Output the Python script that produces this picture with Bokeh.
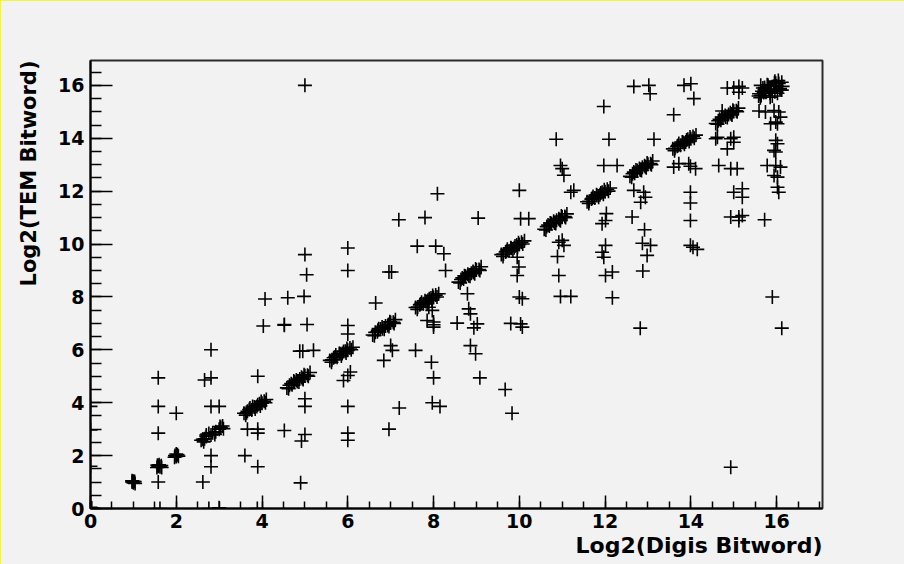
from bokeh.plotting import figure
from bokeh.models import Range1d, SingleIntervalTicker, ColumnDataSource, Title
from bokeh.embed import file_html
from bokeh.resources import INLINE

# ---------------- data ----------------
# points lying along the diagonal (dense streaks)
diag_x = [
    0.0, 0.03, 0.0,
    0.97, 1.0, 1.03, 1.0,
    1.55, 1.58, 1.62, 1.6, 1.65,
    1.97, 2.0, 2.03, 2.05,
    2.58, 2.62, 2.66, 2.7, 2.81, 2.85, 2.92, 3.0, 3.04, 3.08,
    3.58, 3.64, 3.7, 3.76, 3.82, 3.88, 3.94, 4.0, 4.05, 4.1, 3.66, 3.9,
    4.58, 4.64, 4.7, 4.76, 4.82, 4.88, 4.94, 5.0, 5.06, 5.12, 4.68, 4.92,
    5.58, 5.63, 5.7, 5.75, 5.82, 5.87, 5.94, 6.0, 6.05, 6.12, 5.67, 5.9,
    6.58, 6.64, 6.69, 6.76, 6.81, 6.88, 6.93, 7.0, 7.06, 7.11, 6.7, 6.95,
    7.58, 7.63, 7.7, 7.76, 7.82, 7.87, 7.94, 8.0, 8.05, 8.12, 7.68, 7.9,
    8.58, 8.64, 8.7, 8.75, 8.82, 8.88, 8.93, 9.0, 9.06, 9.11, 8.67, 8.92,
    9.58, 9.63, 9.7, 9.76, 9.81, 9.88, 9.94, 10.0, 10.05, 10.12, 9.68, 9.9,
    10.58, 10.64, 10.7, 10.75, 10.82, 10.87, 10.94, 11.0, 11.06, 11.11, 10.67, 10.92,
    11.58, 11.63, 11.7, 11.76, 11.81, 11.88, 11.93, 12.0, 12.05, 12.12, 11.68, 11.9,
    12.58, 12.64, 12.69, 12.75, 12.82, 12.87, 12.94, 13.0, 13.06, 13.11, 12.67, 12.92,
    13.58, 13.63, 13.7, 13.76, 13.82, 13.88, 13.93, 14.0, 14.05, 14.12, 13.68, 13.9,
    14.58, 14.64, 14.7, 14.75, 14.81, 14.88, 14.94, 15.0, 15.06, 15.11, 14.67, 14.92,
    15.58, 15.64, 15.7, 15.75, 15.82, 15.87, 15.93, 16.0, 16.05, 16.12,
    15.66, 15.9, 15.78, 15.95, 16.08, 15.85, 16.02, 15.72, 16.14, 15.96,
]
diag_y = [
    0.0, 0.02, 0.05,
    1.0, 0.97, 1.02, 1.03,
    1.55, 1.6, 1.58, 1.65, 1.62,
    2.0, 1.97, 2.03, 1.98,
    2.58, 2.62, 2.64, 2.72, 2.78, 2.86, 2.9, 3.0, 3.06, 3.12,
    3.6, 3.62, 3.74, 3.72, 3.84, 3.86, 3.96, 3.98, 4.06, 4.12, 3.68, 3.92,
    4.56, 4.66, 4.68, 4.78, 4.8, 4.9, 4.92, 5.02, 5.04, 5.14, 4.72, 4.96,
    5.6, 5.62, 5.73, 5.72, 5.85, 5.86, 5.95, 5.98, 6.07, 6.1, 5.7, 5.94,
    6.56, 6.66, 6.68, 6.79, 6.8, 6.9, 6.92, 7.03, 7.04, 7.14, 6.74, 6.96,
    7.6, 7.62, 7.73, 7.74, 7.83, 7.87, 7.96, 7.98, 8.07, 8.12, 7.7, 7.93,
    8.56, 8.66, 8.68, 8.78, 8.8, 8.9, 8.92, 9.02, 9.04, 9.14, 8.72, 8.96,
    9.6, 9.62, 9.73, 9.74, 9.84, 9.86, 9.96, 9.98, 10.07, 10.12, 9.7, 9.93,
    10.56, 10.66, 10.68, 10.78, 10.8, 10.9, 10.92, 11.02, 11.04, 11.14, 10.72, 10.96,
    11.6, 11.62, 11.73, 11.74, 11.84, 11.86, 11.96, 11.98, 12.07, 12.12, 11.7, 11.93,
    12.56, 12.66, 12.68, 12.78, 12.8, 12.9, 12.92, 13.02, 13.04, 13.14, 12.72, 12.96,
    13.6, 13.62, 13.73, 13.74, 13.84, 13.86, 13.96, 13.98, 14.07, 14.12, 13.7, 13.93,
    14.56, 14.66, 14.68, 14.78, 14.8, 14.9, 14.92, 15.02, 15.04, 15.14, 14.72, 14.96,
    15.6, 15.62, 15.73, 15.74, 15.84, 15.86, 15.96, 15.98, 16.07, 16.12,
    15.78, 15.6, 16.02, 16.1, 15.82, 15.55, 15.7, 15.92, 15.96, 16.16,
]
# extra points that thicken the diagonal streaks
thick_x = [
    0.97, 1.04, 1.56, 1.66, 2.0, 1.96,
    2.64, 2.76, 2.9, 3.02, 3.1, 2.7,
    3.62, 3.72, 3.84, 3.98, 4.08, 3.78, 3.96,
    4.62, 4.74, 4.86, 4.98, 5.08, 4.8, 4.96,
    5.62, 5.72, 5.85, 5.98, 6.08, 5.8, 5.96,
    6.62, 6.72, 6.85, 6.98, 7.08, 6.8, 6.96,
    7.62, 7.72, 7.85, 7.98, 8.08, 7.8, 7.96,
    8.62, 8.72, 8.85, 8.98, 9.08, 8.8, 8.96,
    9.62, 9.72, 9.85, 9.98, 10.08, 9.8, 9.96,
    10.62, 10.72, 10.85, 10.98, 11.08, 10.8, 10.96,
    11.62, 11.72, 11.85, 11.98, 12.08, 11.8, 11.96,
    12.62, 12.72, 12.85, 12.98, 13.08, 12.8, 12.96,
    13.62, 13.72, 13.85, 13.98, 14.08, 13.8, 13.96,
    14.62, 14.72, 14.85, 14.98, 15.08, 14.8, 14.96,
    15.62, 15.72, 15.85, 15.98, 16.08, 15.8, 15.96, 16.12, 15.68, 16.04,
]
thick_y = [
    1.05, 0.95, 1.64, 1.55, 2.06, 1.94,
    2.52, 2.84, 2.8, 3.1, 3.02, 2.78,
    3.53, 3.8, 3.76, 4.05, 4.0, 3.86, 3.88,
    4.53, 4.82, 4.78, 5.06, 5.0, 4.86, 4.88,
    5.53, 5.8, 5.77, 6.05, 6.0, 5.86, 5.88,
    6.53, 6.8, 6.78, 7.06, 7.0, 6.86, 6.88,
    7.53, 7.8, 7.77, 8.05, 8.0, 7.86, 7.88,
    8.53, 8.8, 8.78, 9.06, 9.0, 8.86, 8.88,
    9.53, 9.8, 9.77, 10.05, 10.0, 9.86, 9.88,
    10.53, 10.8, 10.78, 11.06, 11.0, 10.86, 10.88,
    11.53, 11.8, 11.77, 12.05, 12.0, 11.86, 11.88,
    12.53, 12.8, 12.78, 13.06, 13.0, 12.86, 12.88,
    13.53, 13.8, 13.77, 14.05, 14.0, 13.86, 13.88,
    14.53, 14.8, 14.78, 15.06, 15.0, 14.86, 14.88,
    15.53, 15.84, 15.7, 16.08, 15.88, 16.0, 15.76, 15.82, 15.9, 16.18,
]

# scattered points away from the diagonal
off_x = [
    0.0, 0.0, 0.0,
    1.58, 1.58, 1.58, 1.58, 1.62,
    2.0, 2.81, 2.66, 2.81, 2.81, 3.0, 2.81, 2.81, 2.62, 2.76, 3.0,
    3.9, 4.03, 4.52, 3.66, 3.9, 3.9, 4.52, 3.6, 3.9, 3.89, 4.9, 4.92, 5.0, 5.0, 5.0,
    4.07, 4.6, 4.98, 5.0, 5.0, 5.04, 4.52, 5.05, 4.88, 4.95, 5.2,
    6.0, 6.0, 6.96, 7.02, 7.62, 8.05, 8.24, 8.28, 6.65,
    6.0, 6.0, 6.0, 6.06, 5.9, 6.0, 6.0, 6.0,
    7.0, 7.04, 6.84, 7.58, 7.95, 7.2, 6.96,
    8.0, 8.0, 8.0, 7.85, 7.89, 7.97, 8.0, 7.97, 8.15,
    8.55, 9.02, 8.94, 8.82, 8.86, 8.86, 8.98, 8.79,
    9.08, 9.67, 9.83,
    7.19, 7.8, 8.09, 9.04,
    10.0, 10.03, 10.22,
    10.0, 10.07, 9.8, 10.03, 10.07,
    9.95, 9.99, 9.95,
    10.96, 11.04, 11.0, 11.2, 11.27,
    10.86, 12.09, 13.14, 11.97,
    10.92, 10.89, 10.96, 11.2, 11.0, 11.04, 10.92,
    11.97, 12.28,
    12.67, 12.9, 12.94, 12.83,
    12.03, 12.01, 11.93,
    12.63, 12.92, 12.87, 13.06, 12.98, 12.88,
    12.01, 11.93, 11.97, 12.17, 12.01, 12.17,
    12.82,
    12.67, 13.02, 13.05, 13.84, 14.0, 14.07, 13.6,
    13.6, 13.99, 14.11, 13.72, 13.95,
    13.99, 13.99, 13.99, 13.99, 14.15, 14.05,
    14.85, 15.0, 15.12, 15.2, 15.12, 15.63, 15.59,
    14.73,
    14.58, 14.93, 15.0, 14.85, 14.62, 15.0,
    14.65, 14.93, 15.08,
    15.0, 15.2, 15.2,
    14.93, 15.12, 15.2, 15.12, 15.72,
    15.59, 15.74, 15.94, 16.05, 16.09, 15.98, 15.86, 16.02,
    15.98, 16.02, 15.94, 15.98,
    15.78, 15.98, 16.09, 15.94, 16.02, 16.02, 16.05,
    15.9, 16.12, 14.93,
]
off_y = [
    3.86, 2.97, 1.6,
    4.94, 3.86, 2.85, 1.0, 0.0,
    3.6, 6.0, 4.86, 4.94, 3.86, 3.86, 2.0, 1.58, 1.0, 0.0, 0.03,
    5.0, 6.9, 6.93, 3.0, 3.0, 2.85, 2.95, 2.0, 1.58, 0.0, 0.97, 2.55, 2.8, 4.15, 3.86,
    7.92, 7.97, 8.02, 16.0, 9.6, 8.84, 6.96, 6.96, 5.95, 5.95, 5.98,
    9.85, 9.0, 8.94, 8.94, 9.92, 9.92, 9.63, 9.0, 7.77,
    6.92, 6.6, 5.03, 5.16, 4.84, 3.86, 2.85, 2.58,
    6.16, 5.98, 5.6, 5.98, 5.53, 3.8, 3.0,
    7.05, 6.95, 6.86, 7.11, 7.61, 7.49, 4.94, 4.0, 3.86,
    7.01, 6.98, 6.83, 7.55, 7.36, 6.16, 5.85, 8.12,
    4.94, 4.5, 3.6,
    10.92, 11.0, 11.9, 10.98,
    12.03, 10.96, 10.96,
    8.0, 7.93, 7.0, 6.98, 6.86,
    9.5, 9.13, 8.81,
    12.97, 12.6, 12.85, 11.96, 12.03,
    13.96, 13.96, 13.96, 15.2,
    8.81, 9.53, 8.02, 8.02, 10.14, 9.95, 10.07,
    12.97, 12.97,
    12.03, 11.96, 11.77, 11.58,
    11.15, 10.89, 10.77,
    11.02, 10.54, 10.03, 9.95, 9.57, 8.98,
    9.95, 9.69, 9.5, 8.94, 8.81, 7.97,
    6.82,
    15.96, 16.0, 15.68, 16.0, 16.06, 15.5, 14.89,
    12.91, 12.94, 12.85, 13.04, 13.04,
    11.96, 11.55, 10.89, 9.95, 9.8, 9.88,
    15.9, 15.9, 15.96, 15.9, 15.74, 16.0, 15.68,
    15.03,
    13.98, 13.98, 13.85, 13.6, 14.04, 14.04,
    12.97, 12.85, 12.85,
    11.96, 12.09, 11.77,
    11.02, 11.02, 11.08, 10.89, 10.92,
    15.03, 14.99, 15.05, 14.99, 14.8, 14.61, 14.55, 14.55,
    13.92, 13.79, 13.54, 13.48,
    12.97, 12.97, 12.91, 12.59, 12.53, 12.15, 11.96,
    8.0, 6.82, 1.56,
]

x_ticks = [0, 2, 4, 6, 8, 10, 12, 14, 16]
x_title = "Log2(Digis Bitword)"
y_title = "Log2(TEM Bitword)"

# ---------------- figure ----------------
FONT = "DejaVu Sans"
BG = "#f2f2f2"

p = figure(
    width=904, height=564,
    x_range=Range1d(0, 17.07), y_range=Range1d(0, 16.94),
    output_backend="svg", toolbar_location=None,
    min_border_left=90, min_border_right=82,
    min_border_top=60, min_border_bottom=56,
    background_fill_color=BG, border_fill_color=BG,
    styles={"outline": "3px solid #f4f400", "outline-offset": "-3px"},
)
p.grid.visible = False
p.outline_line_color = "#2b2b2b"
p.outline_line_width = 2

src = ColumnDataSource(dict(x=diag_x + thick_x + off_x, y=diag_y + thick_y + off_y))
p.scatter("x", "y", source=src, marker="cross", size=14,
          line_color="black", line_width=1.6)

for ax, tin, minin in ((p.xaxis[0], 13, 7), (p.yaxis[0], 22, 11)):
    ax.ticker = SingleIntervalTicker(interval=2, num_minor_ticks=4)
    ax.axis_line_color = "black"
    ax.axis_line_width = 2
    ax.major_tick_in = tin
    ax.major_tick_out = 0
    ax.minor_tick_in = minin
    ax.minor_tick_out = 0
    ax.major_tick_line_color = "black"
    ax.minor_tick_line_color = "black"
    ax.major_tick_line_width = 1.5
    ax.minor_tick_line_width = 1.5
    ax.major_label_text_font = FONT
    ax.major_label_text_font_style = "bold"
    ax.major_label_text_color = "black"
    ax.major_label_text_font_size = "19px"

p.xaxis[0].major_label_standoff = 5
p.yaxis[0].major_label_standoff = 6
p.xaxis[0].major_label_overrides = {t: str(t) for t in x_ticks}

# axis titles, right/top aligned like the original
xt = Title(text=x_title, align="right", text_font=FONT, text_font_style="bold",
           text_font_size="22px", text_color="black", standoff=0)
yt = Title(text=y_title, align="right", text_font=FONT, text_font_style="bold",
           text_font_size="21px", text_color="black", standoff=29)
p.add_layout(xt, "below")
p.add_layout(yt, "left")

open("out.html", "w").write(file_html(p, INLINE))
